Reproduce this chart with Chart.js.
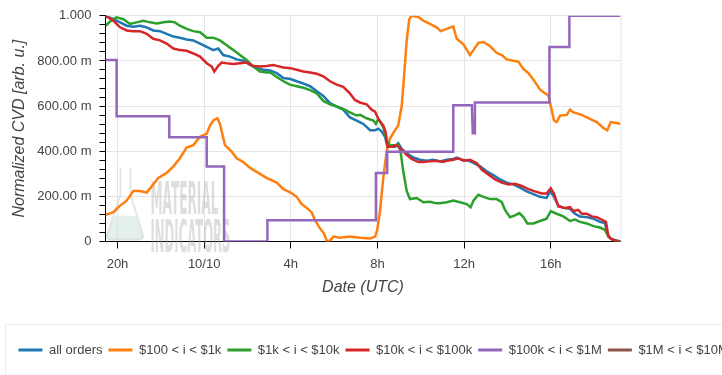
<!DOCTYPE html>
<html>
<head>
<meta charset="utf-8">
<title>Normalized CVD</title>
<script src="https://cdn.jsdelivr.net/npm/chart.js@4/dist/chart.umd.min.js"></script>
<style>
  html, body { margin: 0; padding: 0; background: #fff; overflow: hidden; }
  #wrap { width: 800px; height: 375px; }
</style>
</head>
<body>
<div id="wrap"><canvas id="cvdChart" width="800" height="375"></canvas></div>
<script>
// x values are hours relative to 10/10 00:00 UTC
const xTickHours = [-4, 0, 4, 8, 12, 16];
const xTickLabels = ['20h', '10/10', '4h', '8h', '12h', '16h'];

const seriesNames = ['all orders', '$100 < i < $1k', '$1k < i < $10k', '$10k < i < $100k', '$100k < i < $1M', '$1M < i < $10M'];
const seriesColors = ['#1f77b4', '#ff7f0e', '#2ca02c', '#d62728', '#9467bd', '#8c564b'];

// [hour, normalized CVD]
const allOrders = [
  [-4.55, 1.0], [-4.19, 0.985], [-3.88, 0.971], [-3.58, 0.956], [-3.27, 0.952], [-2.96, 0.956], [-2.65, 0.949], [-2.35, 0.935],
  [-2.04, 0.932], [-1.73, 0.92], [-1.42, 0.908], [-1.12, 0.903], [-0.81, 0.895], [-0.5, 0.891], [-0.19, 0.877], [0.12, 0.862],
  [0.42, 0.848], [0.65, 0.855], [0.88, 0.826], [1.19, 0.819], [1.5, 0.807], [1.81, 0.801], [2.12, 0.782], [2.42, 0.768],
  [2.73, 0.761], [3.04, 0.758], [3.35, 0.746], [3.66, 0.724], [3.99, 0.72], [4.27, 0.71], [4.58, 0.7], [4.89, 0.688],
  [5.2, 0.666], [5.5, 0.645], [5.81, 0.613], [6.12, 0.598], [6.42, 0.584], [6.73, 0.55], [7.04, 0.536], [7.35, 0.521],
  [7.66, 0.493], [7.89, 0.493], [8.04, 0.5], [8.19, 0.488], [8.35, 0.464], [8.46, 0.42], [8.58, 0.42], [8.81, 0.42],
  [8.96, 0.435], [9.12, 0.41], [9.35, 0.391], [9.66, 0.372], [9.96, 0.362], [10.27, 0.358], [10.58, 0.362], [10.89, 0.355],
  [11.2, 0.362], [11.5, 0.366], [11.66, 0.372], [11.89, 0.362], [12.2, 0.358], [12.43, 0.348], [12.74, 0.333], [13.04, 0.311],
  [13.35, 0.294], [13.66, 0.275], [13.97, 0.261], [14.27, 0.253], [14.58, 0.239], [14.89, 0.222], [15.2, 0.21], [15.5, 0.198],
  [15.81, 0.193], [15.97, 0.224], [16.12, 0.203], [16.35, 0.159], [16.58, 0.149], [16.89, 0.145], [17.12, 0.123], [17.35, 0.111],
  [17.66, 0.108], [17.97, 0.101], [18.27, 0.087], [18.5, 0.082], [18.61, 0.036], [18.74, 0.014], [19.04, 0.004], [19.22, 0.0]
];

const orders100to1k = [
  [-4.55, 0.118], [-4.19, 0.13], [-3.88, 0.159], [-3.58, 0.181], [-3.27, 0.224], [-2.96, 0.224], [-2.65, 0.217], [-2.35, 0.253],
  [-2.12, 0.282], [-1.73, 0.304], [-1.42, 0.333], [-1.12, 0.369], [-0.81, 0.416], [-0.5, 0.427], [-0.19, 0.464], [0.12, 0.478],
  [0.27, 0.514], [0.42, 0.536], [0.61, 0.546], [0.73, 0.521], [0.96, 0.427], [1.27, 0.398], [1.5, 0.369], [1.81, 0.352],
  [2.12, 0.326], [2.5, 0.304], [2.88, 0.282], [3.35, 0.261], [3.66, 0.232], [3.99, 0.217], [4.27, 0.198], [4.5, 0.166],
  [4.73, 0.149], [4.96, 0.13], [5.12, 0.094], [5.35, 0.058], [5.53, 0.036], [5.66, 0.003], [5.81, 0.003], [5.96, 0.022],
  [6.27, 0.017], [6.73, 0.022], [7.19, 0.017], [7.66, 0.013], [7.89, 0.022], [7.99, 0.051], [8.12, 0.137], [8.27, 0.282],
  [8.42, 0.398], [8.58, 0.456], [8.76, 0.485], [8.96, 0.514], [9.12, 0.601], [9.24, 0.746], [9.35, 0.891], [9.47, 0.985],
  [9.58, 1.0], [9.89, 0.995], [10.12, 0.978], [10.42, 0.964], [10.73, 0.949], [10.92, 0.932], [11.2, 0.942], [11.5, 0.953],
  [11.66, 0.898], [11.97, 0.874], [12.27, 0.826], [12.43, 0.848], [12.66, 0.88], [12.89, 0.884], [13.2, 0.865], [13.5, 0.836],
  [13.74, 0.826], [13.97, 0.807], [14.27, 0.801], [14.5, 0.797], [14.74, 0.764], [14.97, 0.746], [15.2, 0.717], [15.5, 0.674],
  [15.74, 0.656], [15.89, 0.648], [16.0, 0.601], [16.15, 0.536], [16.27, 0.529], [16.43, 0.558], [16.74, 0.561], [16.89, 0.584],
  [17.05, 0.572], [17.43, 0.561], [17.81, 0.543], [18.12, 0.529], [18.43, 0.503], [18.61, 0.493], [18.77, 0.529], [18.97, 0.526],
  [19.22, 0.522]
];

const orders1kto10k = [
  [-4.55, 0.956], [-4.27, 0.981], [-4.04, 0.993], [-3.73, 0.985], [-3.42, 0.964], [-3.12, 0.971], [-2.81, 0.978], [-2.5, 0.971],
  [-2.19, 0.966], [-1.88, 0.971], [-1.58, 0.975], [-1.35, 0.971], [-1.12, 0.956], [-0.81, 0.942], [-0.5, 0.932], [-0.19, 0.927],
  [0.12, 0.903], [0.42, 0.903], [0.73, 0.891], [1.04, 0.869], [1.35, 0.848], [1.65, 0.826], [1.96, 0.804], [2.27, 0.775],
  [2.58, 0.753], [2.88, 0.749], [3.04, 0.75], [3.35, 0.729], [3.66, 0.71], [3.96, 0.695], [4.27, 0.688], [4.58, 0.681],
  [4.89, 0.671], [5.2, 0.656], [5.5, 0.623], [5.81, 0.608], [6.12, 0.598], [6.42, 0.587], [6.73, 0.572], [7.04, 0.558],
  [7.2, 0.561], [7.5, 0.546], [7.81, 0.536], [7.93, 0.521], [8.04, 0.543], [8.27, 0.507], [8.42, 0.449], [8.58, 0.427],
  [8.81, 0.427], [8.96, 0.43], [9.07, 0.398], [9.19, 0.311], [9.35, 0.224], [9.5, 0.188], [9.81, 0.193], [10.12, 0.174],
  [10.42, 0.176], [10.73, 0.169], [10.89, 0.169], [11.2, 0.174], [11.5, 0.181], [11.81, 0.174], [12.12, 0.166], [12.3, 0.152],
  [12.43, 0.181], [12.66, 0.207], [12.89, 0.198], [13.2, 0.188], [13.5, 0.188], [13.74, 0.174], [13.89, 0.14], [14.12, 0.108],
  [14.35, 0.116], [14.55, 0.126], [14.74, 0.108], [14.92, 0.08], [15.2, 0.08], [15.5, 0.091], [15.81, 0.101], [16.0, 0.135],
  [16.27, 0.123], [16.58, 0.111], [16.89, 0.091], [17.12, 0.097], [17.35, 0.087], [17.66, 0.08], [17.97, 0.068], [18.27, 0.062],
  [18.5, 0.051], [18.66, 0.022], [18.89, 0.004], [19.22, 0.0]
];

const orders10kto100k = [
  [-4.55, 1.0], [-4.19, 0.978], [-3.88, 0.949], [-3.58, 0.935], [-3.27, 0.932], [-2.96, 0.932], [-2.65, 0.92], [-2.35, 0.898],
  [-2.04, 0.891], [-1.73, 0.877], [-1.42, 0.855], [-1.12, 0.848], [-0.81, 0.845], [-0.5, 0.833], [-0.19, 0.819], [0.12, 0.79],
  [0.35, 0.775], [0.47, 0.753], [0.65, 0.778], [0.81, 0.793], [1.04, 0.79], [1.35, 0.787], [1.65, 0.79], [1.96, 0.793],
  [2.27, 0.778], [2.58, 0.775], [2.88, 0.778], [3.19, 0.782], [3.35, 0.778], [3.66, 0.771], [3.99, 0.768], [4.27, 0.761],
  [4.58, 0.753], [4.89, 0.749], [5.2, 0.743], [5.5, 0.732], [5.81, 0.71], [6.12, 0.695], [6.42, 0.685], [6.73, 0.656],
  [6.96, 0.627], [7.19, 0.616], [7.5, 0.608], [7.73, 0.584], [7.89, 0.575], [8.04, 0.543], [8.27, 0.514], [8.38, 0.485],
  [8.46, 0.42], [8.66, 0.42], [8.89, 0.427], [9.12, 0.406], [9.35, 0.384], [9.58, 0.366], [9.89, 0.352], [10.12, 0.352],
  [10.42, 0.355], [10.73, 0.358], [11.04, 0.352], [11.2, 0.358], [11.5, 0.362], [11.74, 0.369], [11.97, 0.358], [12.27, 0.362],
  [12.58, 0.348], [12.81, 0.319], [13.12, 0.297], [13.43, 0.275], [13.74, 0.261], [14.04, 0.253], [14.35, 0.256], [14.66, 0.246],
  [14.97, 0.232], [15.27, 0.222], [15.58, 0.213], [15.81, 0.213], [16.0, 0.236], [16.15, 0.213], [16.35, 0.155], [16.66, 0.149],
  [16.89, 0.152], [17.05, 0.135], [17.27, 0.14], [17.43, 0.123], [17.66, 0.123], [17.89, 0.111], [18.12, 0.108], [18.35, 0.097],
  [18.55, 0.087], [18.66, 0.022], [18.81, 0.01], [19.04, 0.003], [19.22, 0.0]
];

// stepped series, each level change given as two points at the same hour
const orders100kto1M = [
  [-4.55, 0.804], [-4.04, 0.804], [-4.04, 0.555], [-1.61, 0.555], [-1.61, 0.462], [0.12, 0.462], [0.12, 0.332], [0.92, 0.332],
  [0.92, 0.0], [2.92, 0.0], [2.92, 0.094], [7.93, 0.094], [7.93, 0.304], [8.45, 0.304], [8.45, 0.398], [11.5, 0.398],
  [11.5, 0.604], [12.36, 0.604], [12.4, 0.48], [12.47, 0.48], [12.5, 0.616], [15.94, 0.616], [15.94, 0.862], [16.86, 0.862],
  [16.86, 1.0], [19.22, 1.0]
];

const orders1Mto10M = [];

const seriesData = [allOrders, orders100to1k, orders1kto10k, orders10kto100k, orders100kto1M, orders1Mto10M];

Chart.defaults.font.family = "'Liberation Sans', Arial, Helvetica, sans-serif";
Chart.defaults.color = '#444';

function yTickLabel(v) {
  const m = Math.round(v * 1000);
  if (m % 200 !== 0) return '';
  if (m === 0) return '0';
  if (m === 1000) return '1.000';
  return m.toFixed(2) + ' m';
}

function drawSqueezed(ctx, text, x, y, w) {
  const m = ctx.measureText(text).width;
  ctx.save();
  ctx.translate(x, y);
  ctx.scale(w / m, 1);
  ctx.fillText(text, 0, 0);
  ctx.restore();
}

function flaskPath(ctx, x, y) {
  ctx.beginPath();
  ctx.moveTo(x + 15, y);
  ctx.lineTo(x + 15, y + 27);
  ctx.lineTo(x + 2, y + 66);
  ctx.quadraticCurveTo(x, y + 72, x + 6, y + 72);
  ctx.lineTo(x + 33, y + 72);
  ctx.quadraticCurveTo(x + 39, y + 72, x + 37, y + 66);
  ctx.lineTo(x + 25, y + 27);
  ctx.lineTo(x + 25, y);
}

// watermark, right frame line and the legend box border
const decorations = {
  id: 'decorations',
  beforeDatasetsDraw(chart) {
    const { ctx, chartArea } = chart;
    ctx.save();
    ctx.strokeStyle = '#e5e5e5';
    ctx.lineWidth = 1;
    ctx.beginPath();
    ctx.moveTo(chartArea.right + 0.5, chartArea.top);
    ctx.lineTo(chartArea.right + 0.5, chartArea.bottom);
    ctx.stroke();

    const fx = chartArea.left, fy = chartArea.top + 152;
    ctx.fillStyle = 'rgba(205, 228, 222, 0.55)';
    ctx.beginPath();
    ctx.moveTo(fx + 9, fy + 48);
    ctx.lineTo(fx + 30, fy + 48);
    ctx.lineTo(fx + 37, fy + 66);
    ctx.quadraticCurveTo(fx + 39, fy + 72, fx + 33, fy + 72);
    ctx.lineTo(fx + 6, fy + 72);
    ctx.quadraticCurveTo(fx, fy + 72, fx + 2, fy + 66);
    ctx.closePath();
    ctx.fill();
    ctx.strokeStyle = 'rgba(200, 200, 200, 0.45)';
    ctx.lineWidth = 2;
    flaskPath(ctx, fx, fy);
    ctx.stroke();

    ctx.fillStyle = 'rgba(160, 160, 160, 0.35)';
    ctx.font = 'bold 44px "DejaVu Sans Condensed", "Liberation Sans Narrow", sans-serif';
    drawSqueezed(ctx, 'MATERIAL', chartArea.left + 45, chartArea.top + 187, 68);
    drawSqueezed(ctx, 'INDICATORS', chartArea.left + 45, chartArea.top + 225, 80);
    ctx.restore();
  },
  afterDraw(chart) {
    const { ctx, legend } = chart;
    ctx.save();
    ctx.strokeStyle = '#ebebeb';
    ctx.lineWidth = 1;
    ctx.strokeRect(5.5, Math.round(legend.top - 13.5) + 0.5, chart.width, chart.height);
    ctx.restore();
  }
};

const datasets = seriesNames.map((name, i) => ({
  label: name,
  data: seriesData[i].map(p => ({ x: p[0], y: p[1] })),
  borderColor: seriesColors[i],
  backgroundColor: seriesColors[i],
  borderWidth: 2.5,
  pointRadius: 0,
  tension: 0,
  fill: false,
  order: seriesNames.length - i
}));

new Chart(document.getElementById('cvdChart'), {
  type: 'line',
  data: { datasets: datasets },
  plugins: [decorations],
  options: {
    responsive: false,
    animation: false,
    layout: { padding: { left: 12.5, top: 13, right: 0, bottom: 8.5 } },
    plugins: {
      tooltip: { enabled: false },
      legend: {
        position: 'bottom',
        align: 'start',
        labels: {
          boxWidth: 24,
          boxHeight: 3,
          padding: 6,
          color: '#444',
          font: { size: 13 },
          sort: (a, b) => a.datasetIndex - b.datasetIndex,
          generateLabels: chart => Chart.defaults.plugins.legend.labels.generateLabels(chart)
            .map(l => Object.assign(l, { lineWidth: 0 }))
        }
      }
    },
    scales: {
      x: {
        type: 'linear',
        min: -4.554,
        max: 19.22,
        afterBuildTicks: s => { s.ticks = xTickHours.map(v => ({ value: v })); },
        afterFit: s => { s.height = 96; },
        ticks: {
          autoSkip: false,
          maxRotation: 0,
          padding: 8,
          font: { size: 13 },
          color: '#444',
          callback: v => xTickLabels[xTickHours.indexOf(v)] ?? ''
        },
        grid: { color: '#e5e5e5', tickColor: '#000', tickLength: 7 },
        border: { color: '#000', width: 1 },
        title: {
          display: true,
          text: 'Date (UTC)',
          color: '#444',
          font: { size: 16, style: 'italic' },
          padding: { top: 0, bottom: 40 }
        }
      },
      y: {
        min: 0,
        max: 1,
        afterFit: s => { s.width = 93; },
        ticks: {
          stepSize: 0.04,
          autoSkip: false,
          padding: 8,
          font: { size: 13 },
          color: '#444',
          callback: yTickLabel
        },
        grid: {
          color: c => (Math.round(c.tick.value * 1000) % 200 === 0 ? '#e5e5e5' : 'rgba(0,0,0,0)'),
          tickColor: '#000',
          tickLength: 6
        },
        border: { color: '#000', width: 1 },
        title: {
          display: true,
          text: 'Normalized CVD [arb. u.]',
          color: '#444',
          font: { size: 16, style: 'italic' },
          padding: { top: -3, bottom: 0 }
        }
      },
      yRight: {
        position: 'right',
        min: 0,
        max: 1,
        afterFit: s => { s.width = 179.5; },
        ticks: { display: false },
        grid: { display: false, drawTicks: false },
        border: { display: false }
      }
    }
  }
});
</script>
</body>
</html>
